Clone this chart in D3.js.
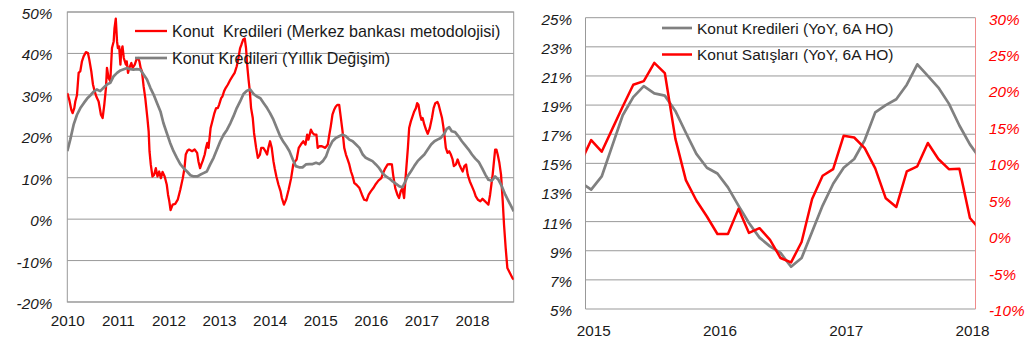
<!DOCTYPE html>
<html>
<head>
<meta charset="utf-8">
<script src="https://cdn.jsdelivr.net/npm/d3@7"></script>
<style>
  html, body { margin: 0; padding: 0; background: #fff; }
  svg { display: block; font-family: "Liberation Sans", Arial, sans-serif; }
</style>
</head>
<body>
<svg id="chart" width="1028" height="343"></svg>
<script>
// ---------- Left panel: housing loan growth, x = months since Jan 2010 ----------
const leftYears = ["2010", "2011", "2012", "2013", "2014", "2015", "2016", "2017", "2018"];
const leftPctTicks = [-20, -10, 0, 10, 20, 30, 40, 50];

// Konut Kredileri (Merkez bankası metodolojisi)
const mbMonths = [0,0.47,0.95,1.26,1.66,1.9,2.29,2.69,3.08,3.48,3.87,4.43,4.9,5.22,5.69,6.09,6.48,6.88,7.43,7.98,8.38,8.77,9.17,9.41,9.8,10.2,10.6,11,11.2,11.5,11.8,12,12.3,12.6,12.8,13.1,13.4,13.9,14.1,14.4,14.7,15.2,15.5,16,16.4,16.8,17.1,17.4,17.7,18.1,18.5,19,19.3,19.5,19.8,20.2,20.6,21,21.4,21.8,22.2,22.6,23.1,23.6,23.9,24.2,24.5,25,25.6,26.2,26.8,27.4,27.8,28.1,28.5,28.9,29.6,30.2,30.8,31.1,31.5,31.8,32.1,32.6,32.9,33.2,33.5,34,34.5,34.9,35.3,35.7,36,36.5,36.8,37.2,37.6,38.1,38.7,39.2,39.7,40.2,40.6,41,41.3,41.7,42.1,42.4,42.7,43,43.3,43.6,44,44.3,44.8,45.2,45.7,46,46.5,47,47.4,47.7,48.1,48.5,48.9,49.2,49.6,50.1,50.6,50.9,51.4,51.9,52.5,53.1,53.6,54.1,54.4,54.9,55.4,56,56.5,56.9,57.2,57.8,58.2,58.6,59.1,59.4,59.8,60.4,61.2,61.8,62.1,62.5,62.9,63.3,63.7,64.1,64.5,64.9,65.3,65.7,66.1,66.5,66.9,67.3,67.7,68.1,68.6,69.3,69.9,70.4,71,71.5,72,72.6,73.2,73.8,74.5,74.9,75.4,76,76.5,77,77.3,77.8,78.3,78.7,79.1,79.5,79.9,80.3,80.8,81.1,81.5,81.9,82.3,82.7,83,83.3,83.7,84,84.3,84.7,85.1,85.5,86,86.5,86.9,87.3,87.8,88.1,88.5,88.9,89.2,89.5,89.8,90.2,90.6,91,91.4,91.7,92.2,92.6,93,93.4,93.8,94.2,94.6,95,95.5,96,96.5,96.9,97.4,98,98.5,99,99.5,99.9,100.3,100.6,100.9,101.3,101.5,101.8,102.1,102.5,102.9,103.3,103.6,104,104.4,105,105.6,105.9];
const mbValues = [30.4,28.8,26.4,25.6,26.8,28.4,29.9,35.3,35.7,38.1,39.3,40.3,40.1,38.5,35.7,32.5,30.9,29.6,28.4,25.2,24.4,27.6,31.7,36.5,34.1,33.3,41.3,42.9,46.1,48.4,42.9,41.3,41.7,37.3,40.5,41.7,38.9,37.3,38.1,35.3,36.5,37.7,36.5,37.3,38.5,38.9,38.1,36.5,35.7,32.1,29.2,24.4,21.2,16.4,13.2,10.3,10.7,12.3,10.3,11.5,9.9,11.4,10.3,8.3,5.9,4.3,2.2,3.5,3.7,4.7,7.1,9.9,12.3,15.6,16.5,16.8,16.4,16.8,16.0,14.0,12.3,13.2,14.0,15.6,17.2,18.4,17.2,22.0,24.0,25.6,26.8,26.8,27.6,29.2,29.6,30.9,31.7,32.5,33.7,34.5,35.3,36.9,38.9,41.3,42.1,43.3,43.6,41.3,36.9,33.7,30.9,26.8,24.4,20.8,17.2,14.8,15.6,17.2,17.2,16.4,15.6,17.2,18.8,17.2,14.0,12.3,10.3,8.3,6.7,5.1,3.5,4.7,7.1,9.9,13.2,14.0,14.4,17.2,18.0,18.8,18.0,20.4,19.2,21.6,20.8,20.4,20.4,17.2,17.6,17.6,17.2,18.0,20.0,22.4,25.2,26.4,27.2,27.6,27.6,24.4,21.2,17.2,15.6,14.4,13.2,11.5,10.3,8.7,8.3,7.5,5.9,4.7,4.5,5.9,6.7,7.5,8.5,9.3,9.9,11.1,12.2,13.2,13.3,13.2,10.7,7.5,5.9,5.1,6.7,7.5,5.1,10.7,17.2,22.0,23.6,24.8,26.0,26.8,28.0,27.6,25.2,24.0,24.4,22.8,21.6,20.6,22.0,24.4,26.8,28.0,28.3,27.6,26.0,24.4,22.4,20.0,17.2,16.0,16.4,15.6,14.4,12.8,13.2,14.4,13.2,12.3,11.5,12.8,13.2,10.7,9.1,7.9,6.7,5.5,4.7,4.3,4.9,4.4,3.9,3.5,5.9,8.3,10.7,14.8,16.8,16.8,15.6,13.6,10.7,4.3,-1.3,-7.0,-11.8,-13.0,-14.2,-14.6];

// Konut Kredileri (Yıllık Değişim)
const yillikMonths = [0,0.7,1.5,2.3,3.1,3.9,4.7,5.5,6.2,7,7.8,8.6,9.4,10.2,11,11.8,12.6,13.4,14.2,14.9,15.7,16.5,17.3,18.1,18.9,19.7,20.5,21.3,22.1,22.8,23.6,24.4,25.2,26,26.8,27.6,28.4,29.2,30,30.8,31.5,32.3,33.1,33.9,34.7,35.5,36.3,37.1,37.9,38.7,39.4,40.2,41,41.8,42.6,43.4,44.2,45,45.8,46.6,47.4,48.1,48.9,49.7,50.5,51.3,52,52.7,53.5,54.2,55,55.8,56.6,57.4,58.2,59,59.8,60.6,61.4,62.1,62.9,63.7,64.5,65.3,66.1,66.9,67.7,68.5,69.3,70.1,70.8,71.6,72.4,73.2,74,74.8,75.6,76.4,77.2,78,78.8,79.5,80.2,80.7,81.5,82.3,83.1,83.9,84.7,85.5,86.3,87.1,87.8,88.6,89.4,90,90.6,91.2,92,92.8,93.6,94.4,95.2,96,96.8,97.6,98.4,99.2,99.9,100.7,101.5,102.3,103.1,103.9,104.7,105.5,105.9];
const yillikValues = [16.4,19.2,22.8,25.2,26.8,28.0,29.1,29.9,30.7,31.3,30.9,31.7,32.5,32.9,34.5,35.3,35.9,36.2,36.5,36.2,36.1,36.2,36.1,34.9,33.7,31.7,30.0,28.0,26.0,23.2,20.8,18.4,16.4,14.8,13.3,12.3,11.5,10.6,10.3,10.3,10.7,11.1,11.5,13.2,14.8,16.8,18.8,20.4,21.6,23.2,24.8,26.8,28.4,30.2,31.0,31.3,30.2,29.6,29.2,28.0,26.8,25.6,24.0,22.0,20.0,18.6,17.6,16.4,14.4,12.8,12.5,12.5,13.2,13.3,13.3,13.6,13.3,14.0,15.2,17.2,18.8,19.6,20.0,20.4,20.0,19.2,18.8,18.0,17.2,15.6,14.8,14.4,14.0,13.2,12.3,11.1,10.3,9.8,9.1,8.5,7.9,7.7,9.1,10.3,11.5,12.8,14.0,14.8,15.6,16.8,18.0,18.8,19.2,19.6,20.6,21.8,22.2,21.2,21.0,20.0,18.8,17.8,16.8,15.6,14.6,13.8,12.3,10.7,9.5,9.3,10.3,9.5,7.9,5.9,4.3,2.7,1.9];

// ---------- Right panel: 6-month moving averages, x = month index from Jan 2015 ----------
const rightYears = ["2015", "2016", "2017", "2018"];
const rightLeftTicks = [5, 7, 9, 11, 13, 15, 17, 19, 21, 23, 25];
const rightRightTicks = [-10, -5, 0, 5, 10, 15, 20, 25, 30];
const rightMonths = [-1,0,1,2,3,4,5,6,7,8,9,10,11,12,13,14,15,16,17,18,19,20,21,22,23,24,25,26,27,28,29,30,31,32,33,34,35,36,37];
// Konut Kredileri (YoY, 6A HO) — left axis
const krediYoY = [13.7,13.2,14.1,16.2,18.3,19.55,20.3,19.8,19.65,18.6,17.1,15.65,14.7,14.3,13.35,12.1,10.9,9.9,9.3,8.85,7.9,8.5,10.3,12.1,13.6,14.7,15.3,16.6,18.5,19.0,19.4,20.4,21.8,21.0,20.2,19.1,17.6,16.3,15.3];
// Konut Satışları (YoY, 6A HO) — right axis
const satisYoY = [10.1,13.2,11.6,14.7,17.8,20.8,21.3,23.8,22.4,13.4,7.7,4.9,2.7,0.3,0.3,3.75,0.45,1.1,-0.5,-3.0,-3.6,-0.8,5.1,8.3,9.2,13.8,13.55,12.1,9.3,5.2,4.0,8.9,9.6,12.8,10.6,9.2,9.25,2.5,0.8];

const RED = "#ff0000";
const GREY = "#808080";
const GRID = "#999999";
const TEXT = "#1a1a1a";

const svg = d3.select("#chart");
svg.append("rect").attr("width", 1028).attr("height", 343).attr("fill", "#fff");
const defs = svg.append("defs");

function pct(d) { return d + "%"; }

function gridlines(g, y, ticks, x0, x1) {
  g.selectAll("line.grid").data(ticks).join("line")
    .attr("class", "grid")
    .attr("x1", x0).attr("x2", x1)
    .attr("y1", d => y(d)).attr("y2", d => y(d))
    .attr("stroke", GRID).attr("stroke-width", 1);
}

function styleAxis(g, italic, color) {
  g.select(".domain").remove();
  g.selectAll(".tick line").remove();
  g.selectAll(".tick text")
    .attr("fill", color)
    .style("font-size", "15.3px")
    .style("font-style", italic ? "italic" : "normal");
}

// ================= LEFT PANEL =================
{
  const L = 67.3, R = 513.7, T = 12, B = 302;
  const x = d3.scaleLinear().domain([0, 105.9]).range([L, R]);
  const y = d3.scaleLinear().domain([-20, 50]).range([B, T]);
  const g = svg.append("g");

  gridlines(g, y, leftPctTicks, L, R);
  g.append("rect").attr("x", L).attr("y", T).attr("width", R - L).attr("height", B - T)
    .attr("fill", "none").attr("stroke", GRID).attr("stroke-width", 1);

  const yAxis = g.append("g").attr("transform", `translate(${L - 15},0)`)
    .call(d3.axisLeft(y).tickValues(leftPctTicks).tickFormat(pct).tickSize(0).tickPadding(0));
  styleAxis(yAxis, true, TEXT);
  yAxis.selectAll(".tick text").attr("dy", "0.42em");

  const xAxis = g.append("g").attr("transform", `translate(0,${B + 13})`)
    .call(d3.axisBottom(x).tickValues(leftYears.map((_, i) => i * 12))
      .tickFormat((d, i) => leftYears[i]).tickSize(0).tickPadding(0));
  styleAxis(xAxis, false, TEXT);

  defs.append("clipPath").attr("id", "clipL").append("rect")
    .attr("x", L).attr("y", T - 2).attr("width", R - L).attr("height", B - T + 4);

  const line = d3.line().x(d => x(d[0])).y(d => y(d[1]));
  const mb = mbMonths.map((m, i) => [m, mbValues[i]]);
  const yl = yillikMonths.map((m, i) => [m, yillikValues[i]]);

  const lines = g.append("g").attr("clip-path", "url(#clipL)");
  lines.append("path").datum(mb).attr("d", line)
    .attr("fill", "none").attr("stroke", RED).attr("stroke-width", 2.3).attr("stroke-linejoin", "round");
  lines.append("path").datum(yl).attr("d", line)
    .attr("fill", "none").attr("stroke", GREY).attr("stroke-width", 2.7).attr("stroke-linejoin", "round");

  // legend
  const leg = g.append("g");
  const items = [
    { label: "Konut  Kredileri (Merkez bankası metodolojisi)", color: RED, y: 31, w: 2.3 },
    { label: "Konut Kredileri (Yıllık Değişim)", color: GREY, y: 58, w: 2.7 }
  ];
  items.forEach(it => {
    leg.append("line").attr("x1", 135).attr("x2", 167).attr("y1", it.y).attr("y2", it.y)
      .attr("stroke", it.color).attr("stroke-width", it.w);
    leg.append("text").attr("x", 172).attr("y", it.y + 5.5)
      .style("font-size", "16.1px").style("white-space", "pre").attr("fill", TEXT)
      .text(it.label);
  });
}

// ================= RIGHT PANEL =================
{
  const L = 585.5, R = 975.5, T = 17.7, B = 309;
  const x = d3.scaleLinear().domain([-0.54, 36.53]).range([L, R]);
  const yL = d3.scaleLinear().domain([5, 25]).range([B, T]);
  const yR = d3.scaleLinear().domain([-10, 30]).range([B, T]);
  const g = svg.append("g");

  gridlines(g, yL, rightLeftTicks, L, R);
  g.append("line").attr("x1", L).attr("x2", L).attr("y1", T).attr("y2", B)
    .attr("stroke", GRID).attr("stroke-width", 1);
  g.append("line").attr("x1", R).attr("x2", R).attr("y1", T).attr("y2", B)
    .attr("stroke", "#f08a8a").attr("stroke-width", 1);

  const yAxisL = g.append("g").attr("transform", `translate(${L - 13.5},0)`)
    .call(d3.axisLeft(yL).tickValues(rightLeftTicks).tickFormat(pct).tickSize(0).tickPadding(0));
  styleAxis(yAxisL, true, TEXT);
  yAxisL.selectAll(".tick text").attr("dy", "0.42em");

  const yAxisR = g.append("g").attr("transform", `translate(${R + 13.5},0)`)
    .call(d3.axisRight(yR).tickValues(rightRightTicks).tickFormat(pct).tickSize(0).tickPadding(0));
  styleAxis(yAxisR, true, RED);
  yAxisR.selectAll(".tick text").attr("dy", "0.42em");

  const xAxis = g.append("g").attr("transform", `translate(0,${B + 16})`)
    .call(d3.axisBottom(x).tickValues(rightYears.map((_, i) => i * 12))
      .tickFormat((d, i) => rightYears[i]).tickSize(0).tickPadding(0));
  styleAxis(xAxis, false, TEXT);
  xAxis.selectAll(".tick text").attr("dx", "2");

  defs.append("clipPath").attr("id", "clipR").append("rect")
    .attr("x", L).attr("y", T - 2).attr("width", R - L).attr("height", B - T + 4);

  const lineL = d3.line().x(d => x(d[0])).y(d => yL(d[1]));
  const lineR = d3.line().x(d => x(d[0])).y(d => yR(d[1]));
  const kredi = rightMonths.map((m, i) => [m, krediYoY[i]]);
  const satis = rightMonths.map((m, i) => [m, satisYoY[i]]);

  const lines = g.append("g").attr("clip-path", "url(#clipR)");
  lines.append("path").datum(kredi).attr("d", lineL)
    .attr("fill", "none").attr("stroke", GREY).attr("stroke-width", 2.7).attr("stroke-linejoin", "round");
  lines.append("path").datum(satis).attr("d", lineR)
    .attr("fill", "none").attr("stroke", RED).attr("stroke-width", 2.5).attr("stroke-linejoin", "round");

  const leg = g.append("g");
  const items = [
    { label: "Konut Kredileri (YoY, 6A HO)", color: GREY, y: 28, w: 2.7 },
    { label: "Konut Satışları (YoY, 6A HO)", color: RED, y: 54.5, w: 2.5 }
  ];
  items.forEach(it => {
    leg.append("line").attr("x1", 662).attr("x2", 692).attr("y1", it.y).attr("y2", it.y)
      .attr("stroke", it.color).attr("stroke-width", it.w);
    leg.append("text").attr("x", 697).attr("y", it.y + 5.5)
      .style("font-size", "15.5px").attr("fill", TEXT)
      .text(it.label);
  });
}
</script>
</body>
</html>
